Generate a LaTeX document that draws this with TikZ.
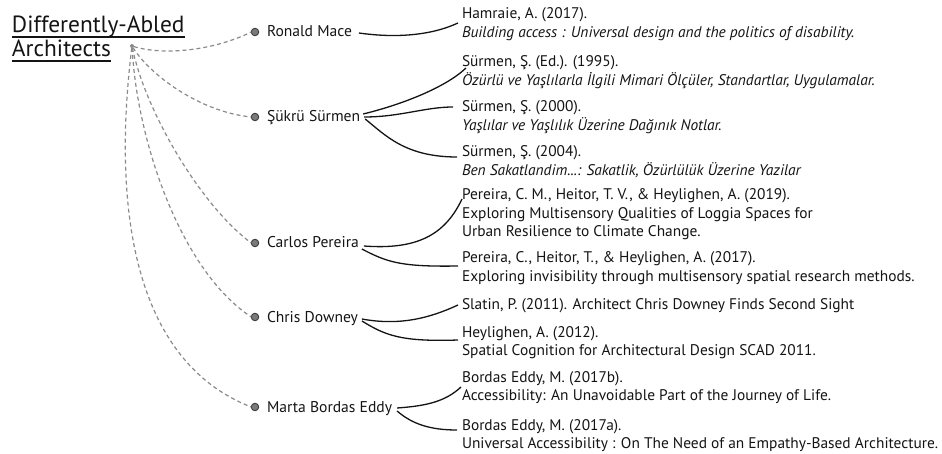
\documentclass[tikz,border=0pt]{standalone}
\usepackage{fontspec}
\setmainfont{PT Sans}
\definecolor{dashgray}{HTML}{8A8A8A}
\definecolor{bulletgray}{HTML}{7A7A7A}
\definecolor{bulletedge}{HTML}{3C3C3C}
\definecolor{ink}{HTML}{141414}
% first-line strut so every reference block has the same top-to-baseline distance
\newcommand\firstline{\rule{0pt}{15pt}}
\begin{document}
\begin{tikzpicture}[x=1pt,y=-1pt,
  every node/.style={inner sep=0pt, outer sep=0pt, text=ink},
  titletext/.style={font=\fontsize{23.4}{25}\selectfont, anchor=base west},
  person/.style={font=\fontsize{15.6}{18.5}\selectfont, anchor=base west},
  refblock/.style={font=\fontsize{15.4}{18.5}\selectfont, anchor=north west, align=left},
  bullet/.style={circle, minimum size=7.5pt, fill=bulletgray, draw=bulletedge, line width=0.9pt},
  hubdot/.style={circle, minimum size=4pt, fill=dashgray},
  branch/.style={draw=dashgray, dash pattern=on 4pt off 3pt, line width=1.2pt},
  link/.style={draw=ink, line width=1.3pt},
  rule/.style={draw=ink, line width=1.3pt},
]
\useasboundingbox (0,0) rectangle (942,454);

% title
\node[titletext] (t1) at (12,33) {Differently-Abled};
\node[titletext] (t2) at (12,57) {Architects};
\draw[rule] ([shift={(0,4)}]t1.base west) -- ([shift={(0,4)}]t1.base east);
\draw[rule] ([shift={(0,4)}]t2.base west) -- ([shift={(0,4)}]t2.base east);
\node[hubdot] (hub) at (132,46) {};

% architects
\node[bullet] (bm) at (255,32) {};
\node[bullet] (bs) at (255,117) {};
\node[bullet] (bc) at (255,243) {};
\node[bullet] (bd) at (255,317) {};
\node[bullet] (be) at (255,407) {};
\node[person] (mace) at (267,37) {Ronald Mace};
\node[person] (surmen) at (267,122) {Şükrü Sürmen};
\node[person] (pereira) at (267,248) {Carlos Pereira};
\node[person] (downey) at (267,322) {Chris Downey};
\node[person] (eddy) at (267,412) {Marta Bordas Eddy};

% dashed branches from the title
\draw[branch] (hub) .. controls (165,56) and (215,50) .. (bm.west);
\draw[branch] (hub) .. controls (150,75) and (200,112) .. (bs.west);
\draw[branch] (hub) .. controls (145,110) and (200,205) .. (bc.west);
\draw[branch] (hub) .. controls (137,140) and (180,270) .. (bd.west);
\draw[branch] (hub) .. controls (113,200) and (130,360) .. (be.west);

% references
\node[refblock] (r1) at (462,4) {\firstline Hamraie, A. (2017).\\ \textit{Building access : Universal design and the politics of disability.}};
\node[refblock] (r2) at (462,52) {\firstline Sürmen, Ş. (Ed.). (1995).\\ \textit{Özürlü ve Yaşlılarla İlgili Mimari Ölçüler, Standartlar, Uygulamalar.}};
\node[refblock] (r3) at (462,97) {\firstline Sürmen, Ş. (2000).\\ \textit{Yaşlılar ve Yaşlılık Üzerine Dağınık Notlar.}};
\node[refblock] (r4) at (462,142) {\firstline Sürmen, Ş. (2004).\\ \textit{Ben Sakatlandim...: Sakatlik, Özürlülük Üzerine Yazilar}};
\node[refblock] (r5) at (462,185) {\firstline Pereira, C. M., Heitor, T. V., \& Heylighen, A. (2019).\\ Exploring Multisensory Qualities of Loggia Spaces for\\ Urban Resilience to Climate Change.};
\node[refblock] (r6) at (462,248) {\firstline Pereira, C., Heitor, T., \& Heylighen, A. (2017).\\ Exploring invisibility through multisensory spatial research methods.};
\node[refblock] (r7) at (462,294) {\firstline Slatin, P. (2011). Architect Chris Downey Finds Second Sight};
\node[refblock] (r8) at (462,322) {\firstline Heylighen, A. (2012).\\ Spatial Cognition for Architectural Design SCAD 2011.};
\node[refblock] (r9) at (462,367) {\firstline Bordas Eddy, M. (2017b).\\ Accessibility: An Unavoidable Part of the Journey of Life.};
\node[refblock] (r10) at (462,415) {\firstline Bordas Eddy, M. (2017a).\\ Universal Accessibility : On The Need of an Empathy-Based Architecture.};

% links from architects to their references
\draw[link] ([shift={(7,-4)}]mace.base east) .. controls +(35,5) and +(-28,13) .. ([shift={(-4,19)}]r1.north west);
\draw[link] ([shift={(3,-8)}]surmen.base east) .. controls +(37,-9) and +(-21,20) .. ([shift={(4,16)}]r2.north west);
\draw[link] ([shift={(4,-5)}]surmen.base east) .. controls +(36,0) and +(-28,0) .. ([shift={(-9,10)}]r3.north west);
\draw[link] ([shift={(5,-3)}]surmen.base east) .. controls +(20,16) and +(-52,0) .. ([shift={(-5,15)}]r4.north west);
\draw[link] ([shift={(5,-2)}]pereira.base east) .. controls +(53,4) and +(-17,36) .. ([shift={(0,14)}]r5.north west);
\draw[link] ([shift={(3,1)}]pereira.base east) .. controls +(25,13) and +(-58,1) .. ([shift={(-4,18)}]r6.north west);
\draw[link] ([shift={(4,-3)}]downey.base east) .. controls +(38,7) and +(-28,13) .. ([shift={(-4,11)}]r7.north west);
\draw[link] ([shift={(4,-1)}]downey.base east) .. controls +(23,14) and +(-58,2) .. ([shift={(-4,18)}]r8.north west);
\draw[link] ([shift={(5,-4)}]eddy.base east) .. controls +(28,-2) and +(-16,15) .. ([shift={(-1,20)}]r9.north west);
\draw[link] ([shift={(5,-1)}]eddy.base east) .. controls +(15,13) and +(-27,0) .. ([shift={(-5,15)}]r10.north west);
\end{tikzpicture}
\end{document}
